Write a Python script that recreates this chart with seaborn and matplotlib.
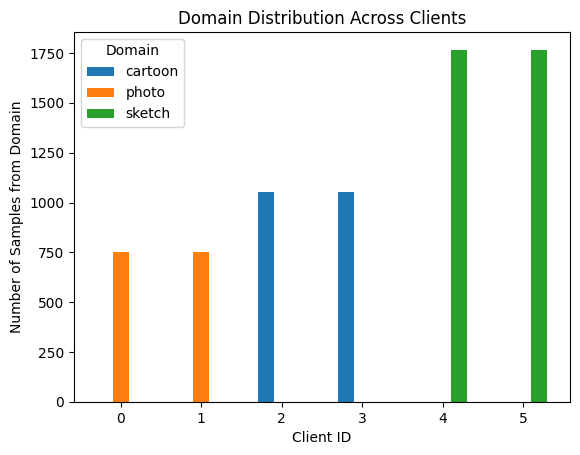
import matplotlib
matplotlib.use("Agg")
import matplotlib.pyplot as plt
import seaborn as sns
import pandas as pd

clients = [0, 1, 2, 3, 4, 5]
domains = ["cartoon", "photo", "sketch"]
cartoon = [0, 0, 1055, 1055, 0, 0]
photo = [751, 751, 0, 0, 0, 0]
sketch = [0, 0, 0, 0, 1768, 1768]

rows = []
for i, c in enumerate(clients):
    for d, vals in zip(domains, [cartoon, photo, sketch]):
        rows.append({"Client ID": c, "Domain": d, "count": vals[i]})
df = pd.DataFrame(rows)

fig, ax = plt.subplots(figsize=(5.8, 4.55), dpi=100)
fig.subplots_adjust(left=0.1276, right=0.9828, top=0.9297, bottom=0.1165)

palette = {"cartoon": "#1f77b4", "photo": "#ff7f0e", "sketch": "#2ca02c"}
sns.barplot(data=df, x="Client ID", y="count", hue="Domain", hue_order=domains,
            palette=palette, width=0.6, saturation=1, ax=ax, linewidth=0)
ax.set_xlim(-0.58, 5.58)
ax.set_ylim(0, 1856)
ax.set_title("Domain Distribution Across Clients")
ax.set_xlabel("Client ID")
ax.set_ylabel("Number of Samples from Domain")
ax.legend(title="Domain", loc="upper left")
fig.savefig("out.png", dpi=100)
